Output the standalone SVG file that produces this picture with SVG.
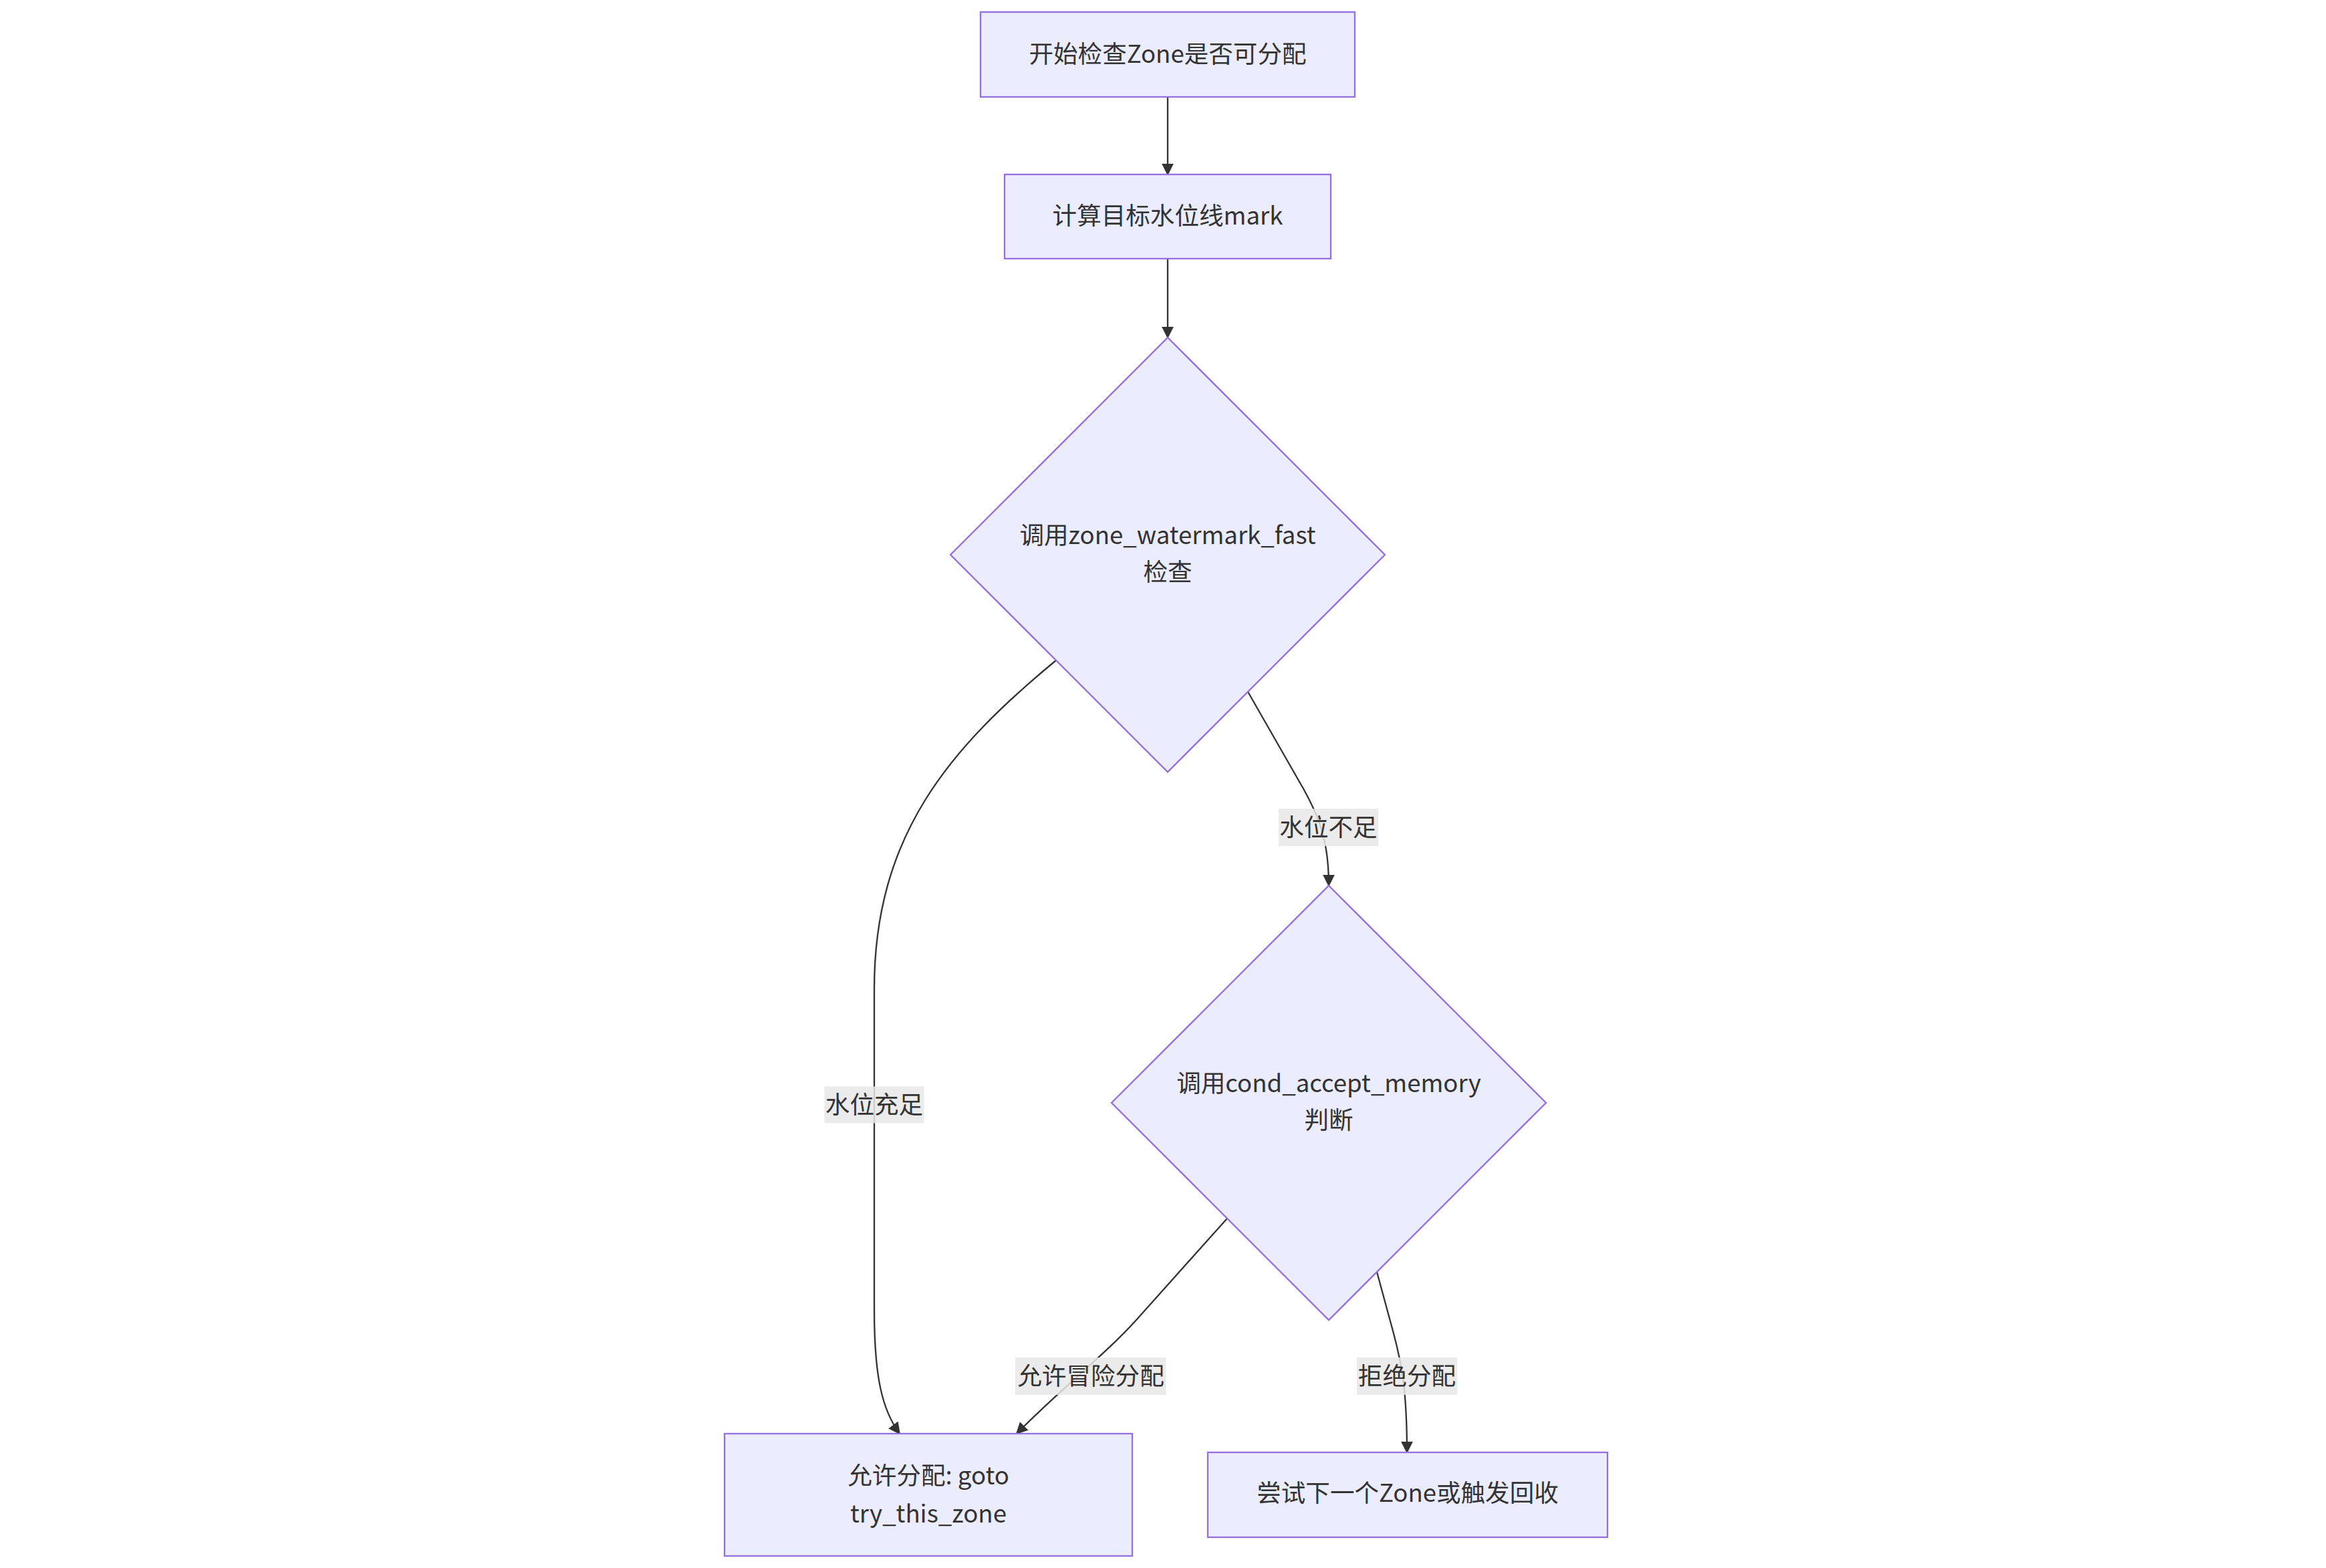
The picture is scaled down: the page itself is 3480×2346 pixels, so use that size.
<svg xmlns="http://www.w3.org/2000/svg" width="3480" height="2346" viewBox="0 0 3480 2346">
<style>
.node rect, .node polygon { fill: #ECECFF; stroke: #9370DB; stroke-width: 2.3; }
.node text, .label text { font-family: "Noto Sans CJK SC", "Noto Sans", sans-serif; font-size: 36.6px; fill: #333333; text-anchor: middle; dominant-baseline: central; }
.edge { fill: none; stroke: #333333; stroke-width: 2.3; marker-end: url(#arrow); }
.label rect { fill: #e8e8e8; fill-opacity: 0.85; }
</style>
<defs>
<marker id="arrow" viewBox="0 0 10 10" refX="9" refY="5" markerUnits="userSpaceOnUse" markerWidth="18" markerHeight="18" orient="auto">
<path d="M0,0 L10,5 L0,10 z" fill="#333333"/>
</marker>
</defs>
<rect width="3480" height="2346" fill="#ffffff"/>
<g id="edges">
<path class="edge" d="M1747,145 L1747,261"/>
<path class="edge" d="M1747,387 L1747,505"/>
<path class="edge" d="M1580,988 C1420,1120 1308,1250 1308,1480 L1308,1960 C1308,2060 1320,2110 1346,2145"/>
<path class="edge" d="M1867,1035 L1950,1180 C1975,1225 1988,1260 1988,1325"/>
<path class="edge" d="M1836,1823 L1700,1975 C1650,2030 1590,2075 1521,2145"/>
<path class="edge" d="M2060,1903 L2085,1995 C2097,2040 2105,2080 2105,2173"/>
</g>
<g id="edge-labels">
<g class="label" id="label-sufficient"><rect x="1233.5" y="1625.5" width="149" height="55"/><text x="1308" y="1650">水位充足</text></g>
<g class="label" id="label-insufficient"><rect x="1913" y="1210" width="149" height="56"/><text x="1987.5" y="1235">水位不足</text></g>
<g class="label" id="label-risk"><rect x="1519" y="2031" width="225.5" height="56"/><text x="1632" y="2056">允许冒险分配</text></g>
<g class="label" id="label-reject"><rect x="2030" y="2031" width="150" height="56"/><text x="2105" y="2056">拒绝分配</text></g>
</g>
<g class="node" id="start"><rect x="1467" y="18" width="560" height="127"/><text x="1747" y="78">开始检查Zone是否可分配</text></g>
<g class="node" id="calc"><rect x="1503" y="261" width="488" height="126"/><text x="1747" y="320">计算目标水位线mark</text></g>
<g class="node" id="check1"><polygon points="1747,505 2072,830 1747,1155 1422,830"/><text x="1747" y="798">调用zone_watermark_fast</text><text x="1747" y="853">检查</text></g>
<g class="node" id="check2"><polygon points="1988,1325 2313,1650 1988,1975 1663,1650"/><text x="1988" y="1618">调用cond_accept_memory</text><text x="1988" y="1673">判断</text></g>
<g class="node" id="allow"><rect x="1084" y="2145" width="610" height="183"/><text x="1389" y="2205">允许分配: goto</text><text x="1389" y="2262">try_this_zone</text></g>
<g class="node" id="next"><rect x="1807" y="2173" width="598" height="127"/><text x="2106" y="2231">尝试下一个Zone或触发回收</text></g>
</svg>
